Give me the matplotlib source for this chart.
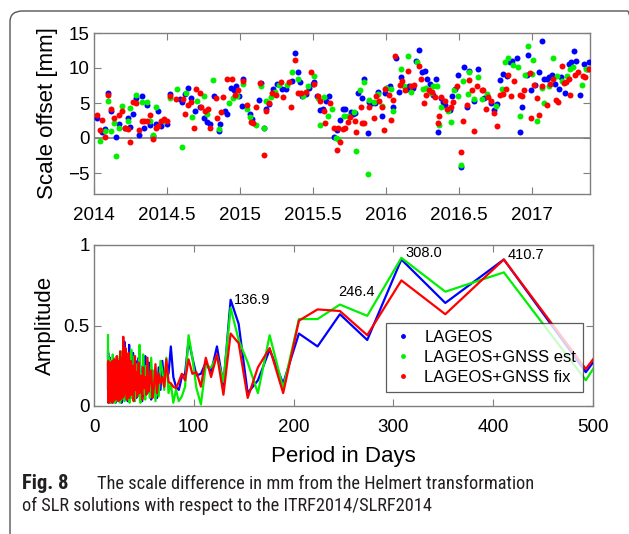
import matplotlib
matplotlib.use("Agg")
import matplotlib.pyplot as plt
from matplotlib import font_manager
from matplotlib.font_manager import FontProperties
from matplotlib.patches import FancyBboxPatch
from matplotlib.lines import Line2D

# ---------------- data: scale offsets (year, mm) ----------------
blue_dates = [2014.020, 2014.058, 2014.077, 2014.097, 2014.116, 2014.154, 2014.173, 2014.212, 2014.231,
              2014.250, 2014.269, 2014.288, 2014.307, 2014.327, 2014.346, 2014.365, 2014.384, 2014.403,
              2014.422, 2014.442, 2014.461, 2014.499,
              2014.523, 2014.592, 2014.603, 2014.626, 2014.645, 2014.665, 2014.695, 2014.730, 2014.757,
              2014.775, 2014.794, 2014.821, 2014.856, 2014.867, 2014.897, 2014.913, 2014.936, 2014.959,
              2014.975, 2014.993, 2015.016, 2015.023, 2015.069, 2015.085, 2015.131, 2015.142, 2015.165,
              2015.181, 2015.202, 2015.229, 2015.257, 2015.291, 2015.314, 2015.360, 2015.376, 2015.395,
              2015.413, 2015.429, 2015.452, 2015.475, 2015.498,
              2015.510, 2015.528, 2015.551, 2015.567, 2015.590, 2015.613, 2015.643, 2015.666, 2015.689,
              2015.705, 2015.721, 2015.762, 2015.774, 2015.790, 2015.813, 2015.836, 2015.854, 2015.877,
              2015.888, 2015.904, 2015.927, 2015.950, 2015.975, 2015.992, 2016.010, 2016.026, 2016.049,
              2016.072, 2016.088, 2016.106, 2016.148, 2016.157, 2016.187, 2016.210, 2016.226, 2016.249,
              2016.267, 2016.285, 2016.301, 2016.324, 2016.347, 2016.359, 2016.377, 2016.393, 2016.409,
              2016.439, 2016.455, 2016.473, 2016.496, 2016.515, 2016.535, 2016.554, 2016.572, 2016.606,
              2016.629, 2016.675, 2016.721, 2016.744, 2016.760, 2016.783, 2016.806, 2016.829, 2016.852,
              2016.863, 2016.898, 2016.921, 2016.937, 2016.967, 2016.978, 2016.996, 2017.024, 2017.047,
              2017.070, 2017.088, 2017.104, 2017.120, 2017.139, 2017.157, 2017.185, 2017.203, 2017.226,
              2017.253, 2017.272, 2017.288, 2017.304, 2017.334, 2017.357, 2017.380, 2017.393]
blue_vals = [2.9, 0.8, 1.3, 6.5, 3.8, 0.1, 2.0, 1.5, 2.9,
             1.6, 3.5, 5.7, 0.4, 6.0, 1.4, 4.7, 1.9, 0.3,
             2.0, 3.8, 1.7, 2.0,
             6.3, 5.6, 5.1, 6.3, 7.2, 5.7, 3.8, 4.4, 2.8,
             2.3, 2.0, 6.0, 1.0, 2.0, 3.8, 3.4, 7.2, 6.8,
             7.4, 6.0, 4.6, 8.5, 3.4, 2.7, 5.4, 7.9, 1.4,
             4.1, 4.9, 7.0, 7.7, 7.0, 7.0, 8.2, 12.2, 9.4,
             8.0, 6.0, 6.3, 7.2, 7.7,
             8.0, 6.0, 4.0, 4.1, 5.3, 6.0, 0.2, 1.1, 2.6,
             4.1, 4.1, 3.7, 3.4, 3.6, 6.4, 5.7, 8.5, 0.7,
             5.1, 5.0, 5.0, 6.6, 3.1, 6.4, 7.2, 7.4, 4.5,
             11.4, 6.6, 8.7, 7.0, 7.4, 7.2, 11.0, 12.6, 9.5,
             9.6, 8.5, 7.7, 6.1, 8.4, 0.8, 5.7, 5.1, 4.7,
             4.0, 6.0, 7.0, 9.0, -4.2, 10.1, 4.5, 9.6, 5.3,
             9.8, 5.7, 5.0, 4.0, 4.9, 8.3, 9.1, 8.8, 10.9,
             11.0, 11.4, 0.9, 4.4, 9.0, 11.8, 6.8, 7.6, 9.5,
             13.8, 8.4, 8.5, 8.7, 9.0, 7.7, 7.0, 8.7, 6.4,
             10.6, 10.9, 12.5, 11.0, 6.1, 10.6, 9.8, 10.9]

green_dates = [2014.039, 2014.077, 2014.097, 2014.116, 2014.135, 2014.154, 2014.173, 2014.192, 2014.231,
               2014.250, 2014.288, 2014.327, 2014.365, 2014.384, 2014.403, 2014.422, 2014.480,
               2014.523, 2014.569, 2014.603, 2014.633, 2014.672, 2014.706, 2014.752, 2014.775, 2014.817,
               2014.856, 2014.924, 2014.952, 2014.982, 2015.021, 2015.046, 2015.069, 2015.108, 2015.142,
               2015.165, 2015.181, 2015.211, 2015.239, 2015.268, 2015.321, 2015.360, 2015.395, 2015.436,
               2015.468, 2015.510,
               2015.537, 2015.551, 2015.574, 2015.602, 2015.629, 2015.659, 2015.675, 2015.712, 2015.740,
               2015.780, 2015.797, 2015.820, 2015.854, 2015.877, 2015.888, 2015.918, 2015.950, 2015.973,
               2016.003, 2016.037, 2016.049, 2016.106, 2016.125, 2016.152, 2016.170, 2016.216, 2016.255,
               2016.278, 2016.313, 2016.324, 2016.354, 2016.363, 2016.381, 2016.427, 2016.446, 2016.469,
               2016.492, 2016.515, 2016.531, 2016.565, 2016.572, 2016.606, 2016.629, 2016.657, 2016.691,
               2016.753, 2016.794, 2016.817, 2016.840, 2016.875, 2016.905, 2016.921, 2016.955, 2016.978,
               2017.001, 2017.012, 2017.035, 2017.074, 2017.088, 2017.116, 2017.143, 2017.173, 2017.207,
               2017.242, 2017.265, 2017.281, 2017.345, 2017.372, 2017.391]
green_vals = [-0.4, 1.0, 5.3, 1.0, 2.2, -2.6, 1.5, 4.6, 2.4,
              4.3, 6.1, 5.1, 5.1, 2.4, 0.5, 4.4, 2.5,
              5.7, 7.0, -1.3, 6.5, 3.0, 5.3, 6.0, 3.4, 8.3,
              1.3, 5.0, 5.7, 6.0, 7.7, 4.2, 3.0, 1.9, 7.5,
              1.5, 5.3, 5.8, 6.6, 7.6, 7.6, 9.4, 8.5, 6.0,
              7.4, 8.8,
              5.7, 1.8, 5.8, 3.1, 4.1, -0.05, -0.2, 3.1, 3.1,
              3.7, -1.8, 6.9, 8.0, -5.1, 5.5, 5.1, 6.3, 4.6,
              7.2, 7.0, 3.8, 9.9, 7.4, 11.7, 6.6, 10.8, 7.0,
              7.2, 6.5, 7.4, 7.4, 1.8, 4.4, 3.9, 2.3, 6.8,
              6.0, -3.8, 8.2, 6.3, 9.5, 5.6, 8.7, 5.6, 6.3,
              4.6, 7.0, 10.8, 11.4, 10.4, 10.1, 3.1, 9.0, 13.2,
              9.1, 11.1, 2.5, 7.2, 5.0, 7.4, 11.4, 8.8, 8.2,
              8.9, 9.9, 10.1, 7.6, 9.9, 9.9]

red_dates = [2014.020, 2014.039, 2014.058, 2014.077, 2014.097, 2014.116, 2014.135, 2014.173, 2014.192,
             2014.212, 2014.231, 2014.250, 2014.269, 2014.288, 2014.307, 2014.327, 2014.346, 2014.365,
             2014.384, 2014.403, 2014.422, 2014.442, 2014.461, 2014.480, 2014.499,
             2014.523, 2014.564, 2014.610, 2014.626, 2014.642, 2014.665, 2014.684, 2014.702, 2014.725,
             2014.736, 2014.764, 2014.780, 2014.794, 2014.833, 2014.844, 2014.872, 2014.886, 2014.913,
             2014.947, 2014.966, 2014.986, 2015.023, 2015.051, 2015.074, 2015.092, 2015.108, 2015.138,
             2015.165, 2015.181, 2015.202, 2015.223, 2015.246, 2015.280, 2015.298, 2015.337, 2015.353,
             2015.376, 2015.395, 2015.422, 2015.452, 2015.487, 2015.510,
             2015.533, 2015.551, 2015.574, 2015.583, 2015.620, 2015.643, 2015.666, 2015.670, 2015.689,
             2015.705, 2015.721, 2015.744, 2015.758, 2015.790, 2015.797, 2015.831, 2015.836, 2015.854,
             2015.888, 2015.918, 2015.934, 2015.957, 2015.973, 2015.987, 2015.992, 2016.019, 2016.033,
             2016.049, 2016.065, 2016.095, 2016.111, 2016.129, 2016.152, 2016.175, 2016.194, 2016.226,
             2016.244, 2016.262, 2016.278, 2016.294, 2016.317, 2016.336, 2016.359, 2016.363, 2016.377,
             2016.404, 2016.423, 2016.446, 2016.462, 2016.485, 2016.515, 2016.531, 2016.554, 2016.570,
             2016.588, 2016.606, 2016.622, 2016.657, 2016.668, 2016.684, 2016.703, 2016.721, 2016.744,
             2016.760, 2016.783, 2016.806, 2016.822, 2016.840, 2016.859, 2016.882, 2016.921, 2016.937,
             2016.951, 2016.990, 2016.996, 2017.019, 2017.035, 2017.051, 2017.074, 2017.104, 2017.127,
             2017.143, 2017.166, 2017.180, 2017.207, 2017.219, 2017.235, 2017.253, 2017.265, 2017.295,
             2017.318, 2017.350, 2017.363, 2017.391]
red_vals = [3.3, 1.1, 2.6, 0.1, 6.2, 4.2, 2.8, 3.3, 3.9,
            1.4, 1.3, -0.5, 5.2, 5.0, 1.1, 2.4, 2.4, 2.4,
            3.3, -0.1, 1.5, 1.7, 2.4, 2.7, 2.4,
            6.0, 5.6, 5.6, 3.4, 4.7, 5.1, 1.4, 7.0, 6.5,
            4.5, 3.9, 4.2, 1.5, 5.7, 2.9, 3.7, 5.8, 8.4,
            8.4, 6.1, 6.8, 8.2, 4.7, 2.3, 2.2, 4.4, 7.9,
            -2.4, 3.8, 5.0, 6.5, 6.1, 8.0, 5.8, 8.0, 4.5,
            11.1, 6.4, 6.4, 6.6, 9.5, 7.7,
            6.0, 5.3, 3.8, 2.2, 5.0, 1.4, -1.7, 1.5, -0.5,
            1.3, 1.4, 2.3, 3.0, 2.5, 0.9, 4.4, 2.1, 2.1,
            4.4, 2.9, 6.0, 5.3, 4.4, 1.1, 7.0, 6.1, 2.6,
            5.5, 11.7, 7.6, 8.1, 6.8, 9.6, 7.4, 7.6, 10.3,
            8.5, 5.0, 6.1, 6.9, 6.6, 5.9, 2.2, 3.1, 5.8,
            5.3, 4.2, 4.4, 5.1, 7.4, -2.0, 2.5, 4.7, 8.3,
            6.9, 1.0, 7.4, 6.9, 6.8, 4.2, 5.8, 5.3, 3.6,
            1.7, 6.1, 6.3, 7.0, 9.0, 6.0, 8.1, 6.1, 6.0,
            6.9, 9.3, 2.8, 7.6, 5.7, 3.3, 7.4, 4.7, 7.7,
            8.4, 5.5, 5.2, 10.3, 7.9, 8.0, 8.5, 6.1, 9.0,
            9.5, 8.8, 8.7, 9.8]

# ---------------- data: amplitude spectrum ----------------
span_days = 1232
harmonics = list(range(4, 177))          # period = 2*span_days/harmonic
amp_lageos = [1.24, 0.21, 0.91, 0.64, 0.91, 0.41, 0.57, 0.37, 0.45, 0.14, 0.35, 0.16, 0.08, 0.51, 0.66,
              0.13, 0.37, 0.21, 0.27, 0.20, 0.19, 0.30, 0.41, 0.20, 0.18, 0.10, 0.12, 0.18, 0.37, 0.20,
              0.25, 0.15, 0.28,
              0.10, 0.24, 0.05, 0.18, 0.09, 0.22, 0.04, 0.15, 0.27, 0.08,
              0.12, 0.31, 0.06, 0.19, 0.03, 0.14, 0.25, 0.07, 0.30, 0.11,
              0.17, 0.05, 0.28, 0.13, 0.21, 0.04, 0.33, 0.09, 0.16, 0.24,
              0.06, 0.20, 0.12, 0.38, 0.08, 0.15, 0.03, 0.26, 0.11, 0.19,
              0.05, 0.29, 0.14, 0.09, 0.40, 0.07, 0.22, 0.13, 0.04, 0.18,
              0.26, 0.10, 0.02, 0.15, 0.23, 0.06, 0.31, 0.12, 0.08, 0.20,
              0.14, 0.03, 0.27, 0.09, 0.17, 0.05, 0.24, 0.11, 0.29, 0.07,
              0.13, 0.21, 0.04, 0.16, 0.28, 0.08, 0.19, 0.02, 0.25, 0.10,
              0.06, 0.22, 0.14, 0.03, 0.18, 0.27, 0.09, 0.15, 0.05, 0.21,
              0.12, 0.30, 0.07, 0.17, 0.02, 0.24, 0.11, 0.19, 0.06, 0.26,
              0.09, 0.14, 0.03, 0.22, 0.16, 0.05, 0.28, 0.10, 0.18, 0.04,
              0.23, 0.12, 0.07, 0.20, 0.02, 0.15, 0.25, 0.08, 0.13, 0.30,
              0.05, 0.19, 0.11, 0.03, 0.24, 0.16, 0.09, 0.27, 0.04, 0.14,
              0.21, 0.07, 0.18, 0.02, 0.12, 0.26, 0.06, 0.33, 0.10, 0.34]
amp_gnss_est = [1.35, 0.16, 0.83, 0.71, 0.92, 0.56, 0.63, 0.54, 0.54, 0.11, 0.44, 0.08, 0.27, 0.41, 0.61,
                0.15, 0.31, 0.24, 0.25, 0.01, 0.11, 0.30, 0.44, 0.12, 0.06, 0.03, 0.10, 0.02, 0.14, 0.08,
                0.30, 0.10, 0.22,
                0.28, 0.06, 0.15, 0.03, 0.22, 0.11, 0.30, 0.05, 0.18, 0.09,
                0.25, 0.04, 0.14, 0.32, 0.07, 0.20, 0.02, 0.38, 0.12, 0.06,
                0.26, 0.10, 0.17, 0.03, 0.31, 0.08, 0.21, 0.13, 0.05, 0.35,
                0.09, 0.16, 0.02, 0.24, 0.11, 0.28, 0.06, 0.19, 0.04, 0.30,
                0.12, 0.07, 0.22, 0.15, 0.03, 0.27, 0.10, 0.18, 0.05, 0.23,
                0.08, 0.34, 0.13, 0.04, 0.20, 0.11, 0.26, 0.02, 0.17, 0.09,
                0.29, 0.06, 0.14, 0.21, 0.03, 0.25, 0.10, 0.16, 0.05, 0.31,
                0.08, 0.19, 0.12, 0.27, 0.04, 0.15, 0.22, 0.07, 0.18, 0.02,
                0.24, 0.11, 0.06, 0.29, 0.13, 0.03, 0.20, 0.09, 0.26, 0.14,
                0.05, 0.22, 0.10, 0.17, 0.32, 0.07, 0.15, 0.02, 0.23, 0.12,
                0.19, 0.06, 0.27, 0.11, 0.04, 0.21, 0.14, 0.08, 0.25, 0.03,
                0.16, 0.10, 0.28, 0.05, 0.18, 0.13, 0.02, 0.22, 0.09, 0.15,
                0.26, 0.07, 0.12, 0.20, 0.04, 0.17, 0.30, 0.08, 0.14, 0.03,
                0.23, 0.11, 0.06, 0.19, 0.28, 0.05, 0.15, 0.09, 0.21, 0.44]
amp_gnss_fix = [1.25, 0.23, 0.91, 0.57, 0.78, 0.44, 0.59, 0.60, 0.53, 0.08, 0.36, 0.24, 0.05, 0.39, 0.45,
                0.07, 0.32, 0.18, 0.30, 0.12, 0.21, 0.20, 0.29, 0.16, 0.20, 0.15, 0.11, 0.12, 0.14, 0.15,
                0.29, 0.12, 0.18,
                0.14, 0.20, 0.08, 0.26, 0.12, 0.05, 0.22, 0.16, 0.09, 0.30,
                0.07, 0.18, 0.11, 0.24, 0.04, 0.19, 0.13, 0.08, 0.27, 0.15,
                0.06, 0.21, 0.10, 0.31, 0.14, 0.03, 0.25, 0.11, 0.18, 0.07,
                0.28, 0.12, 0.20, 0.05, 0.33, 0.09, 0.17, 0.24, 0.04, 0.21,
                0.15, 0.36, 0.08, 0.19, 0.11, 0.27, 0.06, 0.43, 0.13, 0.22,
                0.05, 0.30, 0.16, 0.09, 0.25, 0.12, 0.04, 0.34, 0.18, 0.10,
                0.23, 0.07, 0.28, 0.14, 0.03, 0.26, 0.11, 0.19, 0.06, 0.24,
                0.15, 0.31, 0.08, 0.20, 0.12, 0.04, 0.27, 0.17, 0.09, 0.22,
                0.13, 0.05, 0.25, 0.18, 0.10, 0.29, 0.07, 0.21, 0.14, 0.03,
                0.26, 0.11, 0.19, 0.06, 0.23, 0.15, 0.08, 0.28, 0.12, 0.02,
                0.20, 0.16, 0.09, 0.25, 0.05, 0.18, 0.13, 0.27, 0.07, 0.21,
                0.11, 0.24, 0.03, 0.17, 0.22, 0.08, 0.26, 0.14, 0.06, 0.19,
                0.12, 0.23, 0.04, 0.20, 0.15, 0.09, 0.27, 0.05, 0.18, 0.11,
                0.25, 0.02, 0.16, 0.21, 0.07, 0.28, 0.13, 0.19, 0.24, 0.26]
peak_harmonics = [18, 10, 8, 6]
series_names = ["LAGEOS", "LAGEOS+GNSS est", "LAGEOS+GNSS fix"]
caption_bold = "Fig. 8"
caption_line1 = "The scale difference in mm from the Helmert transformation"
caption_line2 = "of SLR solutions with respect to the ITRF2014/SLRF2014"

# ---------------- figure ----------------
W, H = 629, 534
fig = plt.figure(figsize=(W / 100, H / 100), dpi=100)
plt.rcParams['font.family'] = ['Liberation Sans', 'DejaVu Sans']

axis_gray = '#7f7f7f'
colors = ['#0000ff', '#00f000', '#ff0000']


def style_axes(ax):
    for s in ax.spines.values():
        s.set_color(axis_gray)
        s.set_linewidth(1.0)
    ax.tick_params(direction='in', top=True, right=True, length=5, width=0.8,
                   color=axis_gray, labelsize=13.5, labelcolor='black')


def fb(x0, y0, x1, y1):
    return [x0 / W, 1 - y1 / H, (x1 - x0) / W, (y1 - y0) / H]


# top panel
ax1 = fig.add_axes(fb(94, 33, 590, 194))
ax1.axhline(0, color=axis_gray, lw=1.2, zorder=1)
for d, v, c in [(blue_dates, blue_vals, colors[0]), (green_dates, green_vals, colors[1]),
                (red_dates, red_vals, colors[2])]:
    ax1.plot(d, v, linestyle='none', marker='o', ms=4.3, mec='none', mfc=c, zorder=3)
ax1.set_xlim(2014, 2017.4)
ax1.set_ylim(-8, 15)
ax1.set_xticks([2014, 2014.5, 2015, 2015.5, 2016, 2016.5, 2017])
ax1.set_xticklabels(['2014', '2014.5', '2015', '2015.5', '2016', '2016.5', '2017'])
ax1.set_yticks([-5, 0, 5, 10, 15])
style_axes(ax1)
ax1.tick_params(axis='x', pad=9)
ax1.tick_params(axis='y', pad=3)
ax1.set_ylabel('Scale offset [mm]', fontsize=16)
ax1.yaxis.set_label_coords(-0.072, 0.5)

# bottom panel
ax2 = fig.add_axes(fb(94, 245, 593, 406))
periods = [2 * span_days / k for k in harmonics]
for a, c in [(amp_lageos, colors[0]), (amp_gnss_est, colors[1]), (amp_gnss_fix, colors[2])]:
    ax2.plot(periods, a, color=c, lw=1.6, zorder=3)
ax2.set_xlim(0, 500)
ax2.set_ylim(0, 1)
ax2.set_xticks([0, 100, 200, 300, 400, 500])
ax2.set_yticks([0, 0.5, 1])
ax2.set_yticklabels(['0', '0.5', '1'])
style_axes(ax2)
ax2.tick_params(axis='x', pad=9)
ax2.tick_params(axis='y', pad=3)
ax2.set_ylabel('Amplitude', fontsize=16)
ax2.yaxis.set_label_coords(-0.076, 0.5)
ax2.set_xlabel('Period in Days', fontsize=16)
ax2.xaxis.set_label_coords(0.5, -0.25)

offsets = {18: (3.5, 0.0), 10: (-2, 0.08), 8: (4, 0.03), 6: (4, 0.03)}
for k in peak_harmonics:
    i = harmonics.index(k)
    p = 2 * span_days / k
    top = max(amp_lageos[i], amp_gnss_est[i], amp_gnss_fix[i])
    dx, dy = offsets[k]
    ax2.text(p + dx, top + dy, f"{p:.1f}", fontsize=10.5, ha='left', va='center', zorder=5)

handles = [Line2D([], [], color=c, marker='.', linestyle='none', markersize=5) for c in colors]
leg = ax2.legend(handles, series_names, loc='lower right', bbox_to_anchor=(0.98, 0.087),
                 fontsize=12.0, frameon=True, fancybox=False, borderpad=0.4,
                 labelspacing=0.32, handlelength=1.2, handletextpad=0.7, borderaxespad=0)
leg.get_frame().set_edgecolor('#333333')
leg.get_frame().set_linewidth(0.9)
leg.set_zorder(10)


# caption font: prefer a condensed humanist sans if one is installed
def pick_caption_fonts():
    fl = font_manager.fontManager.ttflist
    prefs = ['Open Sans Condensed', 'Roboto Condensed', 'Noto Sans', 'Open Sans',
             'DejaVu Sans Condensed', 'DejaVu Sans', 'Liberation Sans Narrow']

    def cond(f):
        return (f.stretch in ('condensed', 'semi-condensed', 'extra-condensed')
                or 'ondensed' in f.name or 'Narrow' in f.name
                or 'ondensed' in f.fname or 'Narrow' in f.fname)

    for name in prefs:
        reg = [f for f in fl if f.name == name and cond(f) and f.style == 'normal'
               and f.weight in (400, 'normal', 'regular', 'book')]
        bold = [f for f in fl if f.name == name and cond(f) and f.style == 'normal'
                and f.weight in (700, 'bold')]
        if reg:
            return (FontProperties(fname=reg[0].fname),
                    FontProperties(fname=(bold or reg)[0].fname))
    return (FontProperties(family=['Lato', 'DejaVu Sans']),
            FontProperties(family=['Lato', 'DejaVu Sans'], weight='bold'))


fp_reg, fp_bold = pick_caption_fonts()
cap_color = '#231f20'
t1 = fig.text(97 / W, 1 - 489 / H, caption_line1, fontproperties=fp_reg, fontsize=13,
              color=cap_color, va='baseline')
fig.canvas.draw()
r = fig.canvas.get_renderer()
cap_size = 13 * 436 / t1.get_window_extent(r).width
t1.set_fontsize(cap_size)
t0 = fig.text(22 / W, 1 - 489 / H, caption_bold, fontproperties=fp_bold, fontsize=cap_size * 1.12,
              color=cap_color, va='baseline')
if fp_bold.get_file() == fp_reg.get_file():
    t0.set_fontweight('bold')
t2 = fig.text(22 / W, 1 - 511 / H, caption_line2, fontproperties=fp_reg, fontsize=cap_size,
              color=cap_color, va='baseline')

# frame around the figure
frame = FancyBboxPatch((10 / W, -20 / H), (640 - 10) / W, (H - 11 + 20) / H,
                       boxstyle="round,pad=0,rounding_size=0.02", transform=fig.transFigure,
                       fill=False, edgecolor='#555555', linewidth=1.0, clip_on=False)
fig.patches.append(frame)

fig.savefig('out.png', dpi=100)
